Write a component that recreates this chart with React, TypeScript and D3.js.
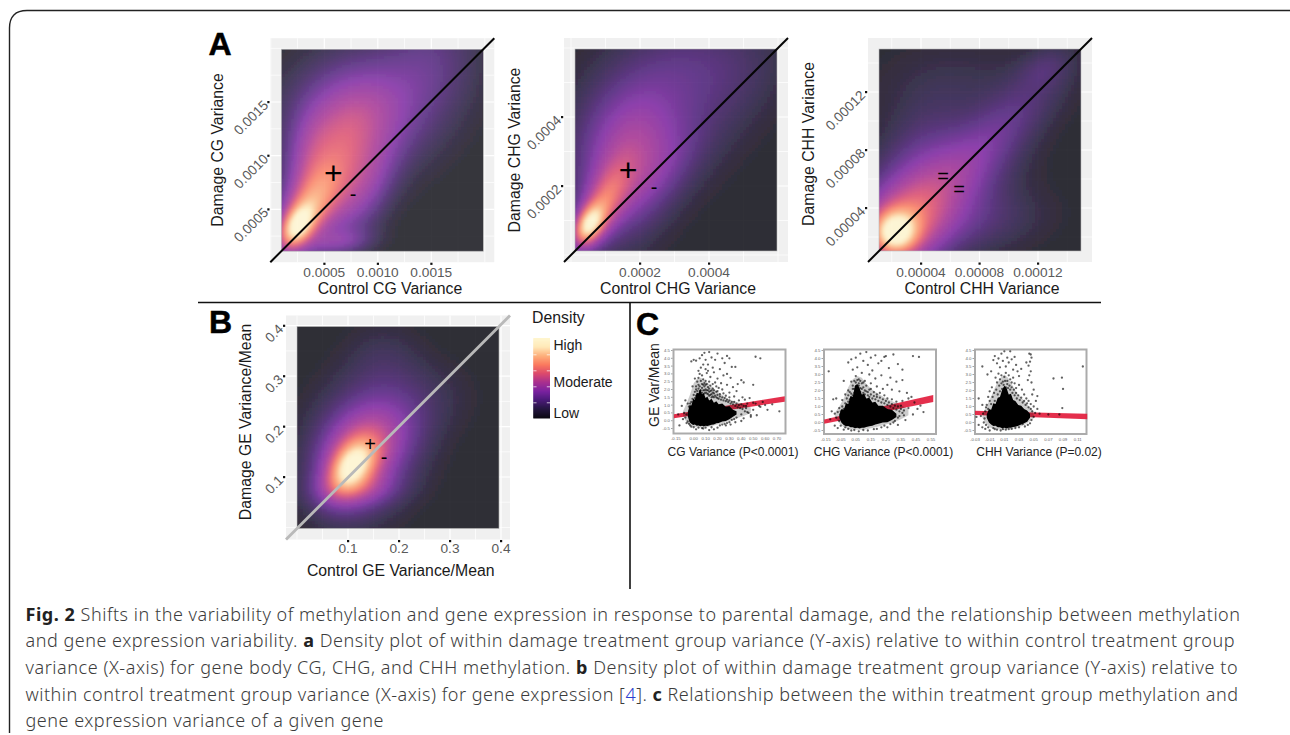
import React from "react";
import * as d3 from "d3";

type Blob = [number, number, number, number, number, number];

// ---- density components: cx, cy, sx, sy, rho, weight
const blobsCG: Blob[] = [
  [0.00024, 0.00033, 0.00011, 0.00014, 0.4, 0.62],
  [0.00035, 0.0005, 0.0002, 0.00026, 0.5, 0.45],
  [0.0006, 0.00085, 0.00026, 0.0004, 0.3, 0.38],
  [0.00085, 0.0014, 0.00042, 0.00035, 0.1, 0.33],
  [0.00035, 0.001, 0.00015, 0.0003, 0.3, 0.14],
  [0.00065, 0.0002, 0.0002, 0.00008, 0.2, 0.16],
  [0.0009, 0.0007, 0.0002, 0.0003, 0.5, 0.16],
  [0.0015, 0.0019, 0.0003, 0.00035, 0.1, 0.12],
];
const blobsCHG: Blob[] = [
  [0.00005, 0.000085, 0.00003, 0.00004, 0.4, 0.65],
  [0.00009, 0.00014, 0.00005, 0.00008, 0.55, 0.38],
  [0.00015, 0.00024, 0.00009, 0.00013, 0.2, 0.28],
  [0.0002, 0.00037, 0.00012, 0.00012, 0.1, 0.18],
  [0.00025, 0.00024, 0.00009, 0.00009, 0.6, 0.08],
  [0.00035, 0.00055, 0.00014, 0.0001, 0.1, 0.11],
  [0.00045, 0.00045, 0.00012, 0.00014, 0.5, 0.04],
];
const blobsCHH: Blob[] = [
  [0.000022, 0.000023, 0.00001, 0.00001, 0, 0.6],
  [0.000026, 0.000026, 0.00002, 0.00002, 0.1, 0.38],
  [0.00005, 0.00005, 0.00003, 0.000027, 0.45, 0.28],
  [0.00009, 0.00009, 0.00003, 0.00003, 0.8, 0.14],
  [0.00004, 0.00007, 0.00002, 0.00003, 0.2, 0.1],
  [0.00008, 0.00003, 0.00003, 0.000015, 0.2, 0.08],
  [0.000125, 0.000137, 0.000012, 0.00001, 0.3, 0.07],
  [0.00007, 0.000125, 0.00004, 0.00002, 0, 0.04],
];
const blobsGE: Blob[] = [
  [0.105, 0.118, 0.03, 0.034, 0.4, 0.48],
  [0.115, 0.13, 0.048, 0.058, 0.25, 0.42],
  [0.135, 0.165, 0.068, 0.08, 0.1, 0.23],
  [0.115, 0.075, 0.055, 0.022, 0.1, 0.14],
  [0.19, 0.2, 0.05, 0.05, 0.1, 0.09],
  [0.17, 0.33, 0.05, 0.05, 0, 0.05],
  [0.26, 0.26, 0.06, 0.05, 0, 0.04],
];

// ---- tick labels
const ticksCGx = [0.0005, 0.001, 0.0015];
const ticksCHGx = [0.0002, 0.0004];
const ticksCHHx = [0.00004, 0.00008, 0.00012];
const ticksGE = [0.1, 0.2, 0.3, 0.4];

// ---- scatter points (x variance, y var/mean)
const pointsCG: [number, number][] = [
  [-0.02,3.8],[0,3.9],[0.02,3.85],[0.04,3.2],[0.05,4.0],[0.07,4.2],[0.09,4.35],[0.1,3.9],[0.12,3.6],[0.13,4.4],[0.15,4.05],[0.16,3.4],[0.18,3.9],[0.2,4.3],[0.22,3.3],[0.24,4.0],[0.26,3.7],[0.28,4.15],[0.3,4.0],[0.32,3.45],[0.35,3.45],[0.28,3.0],[0.31,2.75],[0.25,2.9],[0.2,2.7],[0.17,3.1],[0.14,2.8],[0.11,3.05],[0.07,2.9],[0.03,2.5],[0.01,2.7],[-0.01,2.2],[0.04,2.75],[0.09,2.4],[0.13,2.5],[0.16,2.35],[0.19,2.2],[0.23,2.4],[0.28,2.3],[0.33,2.15],[0.37,2.35],[0.4,2.6],[0.42,2.45],[0.36,1.9],[0.3,1.8],[0.25,1.75],[0.43,1.35],[0.47,1.45],[0.5,1.15],[0.52,1.1],[0.55,0.95],[0.58,1.2],[0.6,1.0],[0.52,4.1],[0.56,4.0],[0.5,2.3],[0.56,0.88],[0.72,0.6],[0.62,0.7],[0.66,1.05],[0.48,0.35],
  [-0.12,-0.3],[-0.1,0.95],[-0.07,1.3],[-0.05,1.1],[-0.13,0.4],[-0.09,0.1],[-0.06,-0.15],[-0.04,0.6],[-0.03,-0.3],[-0.02,1.2],[0.02,-0.55],[0.08,-0.5],[0.13,-0.6],[0.2,-0.45],[0.27,-0.3],[0.35,-0.1],[0.42,0.15],[0.48,0.25],[0.53,0.35],[0.4,-0.02],[0.31,-0.25],[0.17,-0.55],
  [0.02,2.0],[0.04,2.3],[0.05,1.9],[0.06,2.55],[0.07,2.1],[0.08,2.65],[0.08,1.95],[0.09,2.2],[0.1,2.55],[0.1,2.0],[0.11,2.35],[0.12,2.15],[0.13,1.85],[0.14,2.25],[0.15,1.95],[0.16,2.05],[0.17,1.75],[0.18,2.45],[0.2,1.9],[0.21,2.1],[0.22,1.7],[0.24,2.0],[0.27,1.6],[0.3,1.5],[0.34,1.55],[0.38,1.3],[0.41,1.5],[0.45,1.1],[0.44,0.8],[0.5,0.7],[0.46,0.5],[0.4,0.4],[0.05,3.0],[0.06,3.4],[0.1,3.3],[0.08,3.6],[0.12,3.2],
  [-0.04,0.9],[-0.03,1.1],[-0.02,0.95],[-0.01,1.4],[0,1.65],[0,1.2],[0.01,1.85],[0.01,1.45],[0.02,1.6],[0.02,2.2],[0.03,1.9],[0.03,1.5],[0.04,2.05],[0.04,1.65],[0.05,1.75],[0.05,2.2],[0.06,1.95],[0.06,1.6],[0.07,2.35],[0.07,1.8],[0.08,2.3],[0.08,1.7],[0.09,1.95],[0.09,1.75],[0.1,1.8],[0.1,2.3],[0.11,1.75],[0.11,1.95],[0.12,1.7],[0.12,1.95],[0.13,1.6],[0.13,2.05],[0.14,1.65],[0.14,1.9],[0.15,1.7],[0.15,1.5],[0.16,1.8],[0.16,1.55],[0.17,1.5],[0.17,1.95],[0.18,1.6],[0.19,1.5],[0.19,1.85],[0.2,1.45],[0.2,1.65],[0.21,1.4],[0.22,1.55],[0.23,1.35],[0.24,1.5],[0.25,1.3],[0.26,1.45],[0.27,1.25],[0.28,1.35],[0.29,1.2],[0.3,1.3],[0.31,1.1],[0.32,1.2],[0.33,1.05],[0.34,1.2],[0.35,0.95],[0.36,1.1],[0.37,0.85],[0.38,1.0],[0.39,0.8],[0.4,1.05],[0.41,0.75],[0.42,0.95],[0.43,0.6],[0.44,0.95],[0.45,0.55],[0.36,0.2],[0.34,0.1],[0.32,0.05],[0.3,-0.1],[0.28,-0.15],[0.26,-0.2],[0.24,-0.25],[0.22,-0.3],[-0.06,0.4],[-0.07,0.2],[-0.08,0.5],[-0.05,-0.05],[-0.04,-0.2],[-0.02,-0.38],[0,-0.42],[0.04,-0.45],[0.07,-0.48],[0.1,-0.45],[0.15,-0.42],
];
const pointsCHG: [number, number][] = [
  [-0.13,3.2],[-0.03,2.6],[0.0,3.75],[0.02,3.95],[0.03,3.3],[0.05,4.05],[0.06,3.45],[0.08,4.3],[0.1,3.85],[0.12,4.4],[0.13,3.6],[0.15,4.05],[0.16,3.25],[0.18,4.2],[0.2,3.7],[0.22,3.85],[0.24,4.1],[0.27,3.4],[0.3,4.25],[0.33,3.65],[0.36,3.3],[0.43,4.15],[0.47,4.1],[0.25,4.15],[0.28,2.8],[0.32,2.55],[0.36,2.65],[0.26,2.35],[0.22,2.95],[0.18,2.75],[0.14,3.0],[0.09,3.1],[0.05,2.9],[0.02,2.55],[0.07,2.3],[0.11,2.6],[0.15,2.45],[0.19,2.25],[0.23,2.1],[0.29,2.05],[0.34,1.95],[0.39,1.85],[0.42,1.6],[0.44,1.25],[0.48,1.05],[0.46,0.85],[0.5,0.65],[0.43,0.5],[0.38,0.15],[0.33,-0.15],[0.4,1.5],[0.36,1.35],
  [-0.11,0.7],[-0.1,1.45],[-0.08,1.5],[-0.06,0.9],[-0.12,0.2],[-0.09,-0.2],[-0.07,-0.35],[-0.04,1.4],[-0.02,1.75],[0.0,2.0],[-0.03,-0.45],[0.02,-0.5],[0.07,-0.55],[0.13,-0.5],[0.19,-0.4],[0.26,-0.3],[0.3,0.0],
  [0.01,1.9],[0.03,2.1],[0.04,1.85],[0.05,2.5],[0.06,2.0],[0.07,2.7],[0.08,2.15],[0.09,2.45],[0.1,2.2],[0.11,2.0],[0.12,2.3],[0.13,1.9],[0.15,2.1],[0.17,1.9],[0.19,1.75],[0.21,1.85],[0.24,1.7],[0.26,1.5],[0.29,1.45],[0.32,1.3],[0.35,1.05],[0.37,0.75],[0.4,0.9],[0.34,0.4],
  [-0.05,0.7],[-0.04,1.0],[-0.03,0.85],[-0.02,1.2],[-0.01,1.5],[-0.01,1.1],[0,1.3],[0,1.7],[0.01,1.45],[0.02,1.8],[0.02,1.55],[0.03,2.3],[0.03,1.7],[0.04,2.6],[0.04,2.1],[0.05,2.25],[0.06,2.65],[0.06,2.3],[0.07,2.45],[0.08,2.6],[0.08,1.9],[0.09,2.1],[0.1,1.85],[0.1,2.5],[0.11,1.75],[0.12,1.95],[0.13,1.7],[0.14,2.05],[0.14,1.6],[0.15,1.75],[0.16,1.5],[0.17,1.65],[0.18,1.45],[0.19,1.6],[0.2,1.35],[0.21,1.55],[0.22,1.25],[0.23,1.45],[0.24,1.2],[0.25,1.35],[0.26,1.1],[0.27,1.25],[0.28,1.0],[0.29,1.15],[0.3,0.9],[0.31,1.05],[0.32,0.8],[0.33,1.0],[0.34,0.7],[0.35,0.85],[0.36,0.6],[0.37,0.45],[0.33,0.3],[0.31,0.1],[0.28,-0.1],[0.24,-0.2],[0.22,-0.3],[0.17,-0.42],[0.1,-0.47],[0.04,-0.47],[0,-0.4],[-0.02,-0.3],[-0.05,-0.2],[-0.06,0.1],[-0.08,0.3],[-0.09,0.55],[-0.07,0.65],
];
const pointsCHH: [number, number][] = [
  [-0.02,3.5],[-0.013,3.0],[-0.025,1.5],[-0.02,1.1],[-0.008,3.2],[-0.005,3.9],[-0.003,4.15],[0.0,3.7],[0.002,4.0],[0.004,3.45],[0.006,4.3],[0.008,3.85],[0.01,4.45],[0.012,3.5],[0.014,4.05],[0.016,3.75],[0.018,4.45],[0.02,3.95],[0.022,3.3],[0.024,4.1],[0.026,3.6],[0.028,3.2],[0.03,2.9],[0.033,3.35],[0.04,3.75],[0.044,4.3],[0.046,4.25],[0.047,4.05],[0.045,3.8],[0.043,3.55],[0.046,3.2],[0.044,2.95],[0.042,2.65],[0.047,2.5],[0.05,2.05],[0.048,1.75],[0.055,1.65],[0.053,1.35],[0.117,3.5],[0.077,2.75],[0.0885,2.8],[0.09,2.1],[0.089,0.9],[0.07,0.5],[0.085,0.5],
  [-0.002,2.8],[0.0,2.5],[0.002,3.05],[0.004,2.7],[0.006,2.95],[0.008,2.55],[0.01,2.85],[0.012,3.1],[0.014,2.6],[0.016,2.95],[0.018,2.7],[0.02,2.5],[0.022,2.8],[0.024,2.45],[0.026,2.15],[0.03,2.35],[0.034,2.05],[0.037,1.75],[0.04,1.5],[0.043,1.35],[0.046,1.15],[0.05,1.0],[0.055,0.85],[0.058,0.55],[0.05,0.35],[0.04,0.1],[0.03,-0.3],[0.02,-0.4],
  [-0.022,0.4],[-0.02,-0.3],[-0.018,0.0],[-0.016,-0.4],[-0.015,0.95],[-0.012,1.6],[-0.01,-0.5],[-0.01,1.95],[-0.007,2.2],[-0.005,-0.35],[0.0,-0.45],[-0.028,0.35],[-0.025,-0.15],[0.005,-0.5],[0.012,-0.45],[0.035,-0.1],[0.045,-0.05],
  [-0.016,0.7],[-0.014,1.1],[-0.012,0.85],[-0.01,1.35],[-0.008,1.15],[-0.006,1.6],[-0.004,1.85],[-0.003,1.35],[-0.001,2.05],[0.001,1.75],[0.003,2.3],[0.004,1.95],[0.006,2.45],[0.007,2.1],[0.009,2.35],[0.011,2.6],[0.012,2.2],[0.014,2.4],[0.015,2.15],[0.017,2.3],[0.018,2.05],[0.02,2.2],[0.021,1.85],[0.023,2.05],[0.024,1.7],[0.026,1.85],[0.027,1.5],[0.029,1.7],[0.031,1.4],[0.033,1.55],[0.035,1.25],[0.037,1.35],[0.039,1.1],[0.041,1.2],[0.043,0.95],[0.046,0.85],[0.048,0.7],[0.052,0.6],[0.047,0.15],[0.042,-0.15],[0.038,-0.25],[0.025,-0.35],[0.016,-0.42],[0.008,-0.42],[-0.003,-0.42],[-0.012,-0.3],[-0.015,-0.15],[-0.017,0.25],[-0.019,0.55],
];

// ---- solid core of each cloud: x, lower edge, upper edge
const coreCGx = [-0.05,-0.035,-0.02,-0.005,0.01,0.025,0.04,0.055,0.07,0.085,0.1,0.115,0.13,0.15,0.17,0.19,0.21,0.24,0.27,0.3,0.33,0.36];
const coreCGhi = [0.5,1.0,0.95,1.4,1.35,1.8,1.75,2.05,1.7,1.75,1.45,1.55,1.3,1.4,1.15,1.25,1.05,1.1,0.9,0.95,0.7,0.6];
const coreCGlo = [0.3,-0.1,-0.2,-0.28,-0.25,-0.32,-0.3,-0.36,-0.33,-0.37,-0.33,-0.34,-0.3,-0.26,-0.24,-0.16,-0.14,-0.05,-0.02,0.1,0.25,0.4];
const coreCHGx = [-0.06,-0.045,-0.03,-0.015,0,0.015,0.03,0.045,0.06,0.075,0.09,0.105,0.12,0.14,0.16,0.18,0.2,0.23,0.26,0.29,0.32];
const coreCHGhi = [0.5,0.85,0.8,1.2,1.15,1.65,1.6,2.3,2.4,2.15,1.75,1.8,1.5,1.55,1.25,1.3,1.05,1.05,0.85,0.8,0.55];
const coreCHGlo = [0.3,-0.02,-0.15,-0.24,-0.22,-0.3,-0.3,-0.36,-0.33,-0.37,-0.33,-0.33,-0.28,-0.24,-0.2,-0.12,-0.08,0.0,0.02,0.15,0.35];
const coreCHHx = [-0.014,-0.011,-0.008,-0.005,-0.002,0.001,0.004,0.007,0.01,0.013,0.016,0.019,0.022,0.025,0.029,0.033,0.037,0.041,0.045];
const coreCHHhi = [0.5,0.85,0.8,1.2,1.15,1.55,1.6,2.05,2.3,2.15,1.75,1.8,1.4,1.35,1.1,1.05,0.85,0.75,0.55];
const coreCHHlo = [0.3,0.0,-0.12,-0.22,-0.2,-0.3,-0.3,-0.36,-0.33,-0.37,-0.33,-0.33,-0.28,-0.26,-0.2,-0.12,-0.05,0.05,0.3];

// ---- speckled halo round each core: x, lower edge, upper edge
const haloCGx = [-0.09,-0.06,-0.03,0,0.03,0.06,0.09,0.12,0.16,0.2,0.25,0.3,0.36,0.42,0.48];
const haloCGlo = [0.3,-0.1,-0.3,-0.4,-0.42,-0.45,-0.45,-0.4,-0.32,-0.25,-0.15,-0.02,0.15,0.3,0.5];
const haloCGhi = [0.6,1.1,1.7,2.4,2.7,2.75,2.6,2.4,2.15,1.85,1.6,1.35,1.2,1.05,0.85];
const haloCHGx = [-0.09,-0.06,-0.03,0,0.03,0.06,0.09,0.12,0.16,0.2,0.25,0.3,0.35,0.4];
const haloCHGlo = [0.35,-0.05,-0.3,-0.4,-0.42,-0.45,-0.45,-0.42,-0.35,-0.25,-0.12,0,0.2,0.45];
const haloCHGhi = [0.6,1.0,1.5,2.2,2.7,2.9,2.8,2.4,2.05,1.8,1.5,1.3,1.1,0.85];
const haloCHHx = [-0.02,-0.015,-0.01,-0.005,0,0.005,0.01,0.015,0.02,0.027,0.035,0.042,0.05];
const haloCHHlo = [0.3,-0.1,-0.3,-0.4,-0.42,-0.45,-0.45,-0.42,-0.4,-0.33,-0.2,-0.02,0.25];
const haloCHHhi = [0.55,0.95,1.4,1.95,2.45,2.8,3.0,2.8,2.4,1.85,1.45,1.1,0.7];

// ---- fitted bands: left x, right x, left y, right y, left half-width, right half-width
const fitCG = [-0.166, 0.765, 0.29, 1.39, 0.13, 0.17];
const fitCHG = [-0.16, 0.565, 0.05, 1.5, 0.13, 0.22];
const fitCHH = [-0.03, 0.123, 0.6, 0.37, 0.13, 0.17];

const ticksCGc = ["-0.15", "0.00", "0.10", "0.20", "0.30", "0.40", "0.50", "0.60", "0.70"];
const ticksCHGc = ["-0.15", "-0.05", "0.05", "0.15", "0.25", "0.35", "0.45", "0.55"];
const ticksCHHc = ["-0.03", "-0.01", "0.01", "0.03", "0.05", "0.07", "0.09", "0.11"];
const ticksVar = [4.5, 4, 3.5, 3, 2.5, 2, 1.5, 1, 0.5, 0, -0.5];

const legendLabels = ["High", "Moderate", "Low"];

// colour ramps: same colours, the heat map reaches purple sooner than the even legend bar
const rampStops = ["#0c0912", "#241640", "#4a1a78", "#7a22a0", "#a8308f", "#dc4a6c", "#fb7a5e", "#fdb07c", "#ffe9b8", "#fff6d0"];
const heatDomain = [0, 0.06, 0.16, 0.27, 0.42, 0.55, 0.67, 0.8, 0.92, 1];
const ramp = d3.scaleLinear<string>().domain(heatDomain).range(rampStops).interpolate(d3.interpolateRgb).clamp(true);
const legendRamp = d3
  .scaleLinear<string>()
  .domain(rampStops.map((_, i) => i / (rampStops.length - 1)))
  .range(rampStops)
  .interpolate(d3.interpolateRgb)
  .clamp(true);

const sans = "'Liberation Sans', Arial, sans-serif";
const captionFont = "'Noto Sans', sans-serif";
const CELL = 3;

function density(blobs: Blob[], x: number, y: number) {
  let s = 0;
  for (const [cx, cy, sx, sy, r, w] of blobs) {
    const dx = (x - cx) / sx;
    const dy = (y - cy) / sy;
    s += w * Math.exp(-(dx * dx - 2 * r * dx * dy + dy * dy) / (2 * (1 - r * r)));
  }
  return s;
}

type DProps = {
  id: string;
  left: number; top: number;
  xt: [number, number, number, number];
  yt: [number, number, number, number];
  xTicks: number[]; yTicks: number[];
  xFmt: (v: number) => string;
  blobs: Blob[];
  xLabel: string; yLabel: string;
  xLabelX: number; yLabelX: number; yLabelY: number; xLabelY: number;
  lineColor: string; lineWidth: number;
  tickLabelY: number; rotX: number;
};

function DensityPanel(p: DProps) {
  const W = 202, H = 202, pad = 11;
  const x = d3.scaleLinear().domain([p.xt[0], p.xt[2]]).range([p.xt[1], p.xt[3]]);
  const y = d3.scaleLinear().domain([p.yt[0], p.yt[2]]).range([p.yt[1], p.yt[3]]);
  const gl = p.left - pad, gt = p.top - pad, gw = W + 2 * pad, gh = H + 2 * pad;
  const xStep = p.xTicks[1] - p.xTicks[0];
  const yStep = p.yTicks[1] - p.yTicks[0];
  const xMinor = d3.range(-6, 12).map((i) => p.xTicks[0] + (i * xStep) / 2).filter((v) => x(v) > gl && x(v) < gl + gw);
  const yMinor = d3.range(-6, 12).map((i) => p.yTicks[0] + (i * yStep) / 2).filter((v) => y(v) > gt && y(v) < gt + gh);
  const cols = d3.range(-2, Math.ceil(W / CELL) + 2);
  const rows = d3.range(-2, Math.ceil(H / CELL) + 2);
  return (
    <g>
      <defs>
        <clipPath id={`clip-${p.id}`}><rect x={p.left} y={p.top} width={W} height={H} /></clipPath>
        <filter id={`blur-${p.id}`} filterUnits="userSpaceOnUse" x={p.left - 12} y={p.top - 12} width={W + 24} height={H + 24}>
          <feGaussianBlur stdDeviation={1.6} />
        </filter>
      </defs>
      <rect x={gl} y={gt} width={gw} height={gh} fill="#f0f0f0" />
      {xMinor.map((v, i) => (
        <line key={"xg" + i} x1={x(v)} x2={x(v)} y1={gt} y2={gt + gh} stroke="#fff" strokeWidth={p.xTicks.some((t) => Math.abs(t - v) < xStep / 100) ? 1.2 : 0.7} />
      ))}
      {yMinor.map((v, i) => (
        <line key={"yg" + i} y1={y(v)} y2={y(v)} x1={gl} x2={gl + gw} stroke="#fff" strokeWidth={p.yTicks.some((t) => Math.abs(t - v) < yStep / 100) ? 1.2 : 0.7} />
      ))}
      <g clipPath={`url(#clip-${p.id})`} opacity={0.85}>
        <g filter={`url(#blur-${p.id})`}>
          {cols.map((c) =>
            rows.map((r) => {
              const px = p.left + c * CELL;
              const py = p.top + r * CELL;
              const v = density(p.blobs, x.invert(px + CELL / 2), y.invert(py + CELL / 2));
              return <rect key={c + "_" + r} x={px} y={py} width={CELL + 0.5} height={CELL + 0.5} fill={ramp(v)} />;
            })
          )}
        </g>
      </g>
      <rect x={p.left} y={p.top} width={W} height={H} fill="none" stroke="#bbb" strokeWidth={0.6} />
      <line x1={gl} y1={gt + gh} x2={gl + gw} y2={gt} stroke={p.lineColor} strokeWidth={p.lineWidth} />
      {p.xTicks.map((t) => (
        <g key={"xt" + t}>
          <rect x={x(t) - 1} y={gt + gh + 0.5} width={2.2} height={2.2} fill="#111" />
          <text x={x(t)} y={p.tickLabelY} textAnchor="middle" fontFamily={sans} fontSize={13.7} fill="#5a5a5a">{p.xFmt(t)}</text>
        </g>
      ))}
      {p.yTicks.map((t) => (
        <g key={"yt" + t}>
          <rect x={gl - 3} y={y(t) - 1} width={2.2} height={2.2} fill="#111" />
          <text transform={`translate(${p.rotX},${y(t) + 1}) rotate(-45)`} textAnchor="end" dominantBaseline="central" fontFamily={sans} fontSize={13.7} fill="#5a5a5a">{p.xFmt(t)}</text>
        </g>
      ))}
      <text x={p.xLabelX} y={p.xLabelY} textAnchor="middle" fontFamily={sans} fontSize={15.8} fill="#1a1a1a">{p.xLabel}</text>
      <text transform={`translate(${p.yLabelX},${p.yLabelY}) rotate(-90)`} textAnchor="middle" dominantBaseline="central" fontFamily={sans} fontSize={15.8} fill="#1a1a1a">{p.yLabel}</text>
    </g>
  );
}

type SProps = {
  left: number; right: number; top: number; bottom: number;
  xt: [number, number, number, number];
  yt: [number, number];
  xTicks: string[];
  points: [number, number][];
  cx: number[]; lo: number[]; hi: number[];
  hx: number[]; hlo: number[]; hhi: number[];
  fit: number[];
  label: string; labelX: number; labelY: number;
  fs: number;
};

function ScatterPanel(p: SProps) {
  const x = d3.scaleLinear().domain([p.xt[0], p.xt[2]]).range([p.xt[1], p.xt[3]]);
  const y = d3.scaleLinear().domain([4.5, -0.5]).range(p.yt);
  const shape = (lo: number[], hi: number[]) =>
    d3
      .area<number>()
      .x((d) => x(d))
      .y0((_, i) => y(lo[i]))
      .y1((_, i) => y(hi[i]));
  const [x0, x1, a, b, h0, h1] = p.fit;
  const band = d3
    .area<number>()
    .x((d) => x(d))
    .y0((d) => {
      const t = (d - x0) / (x1 - x0);
      return y(a + (b - a) * t - (h0 + (h1 - h0) * t));
    })
    .y1((d) => {
      const t = (d - x0) / (x1 - x0);
      return y(a + (b - a) * t + (h0 + (h1 - h0) * t));
    });
  return (
    <g>
      <rect x={p.left} y={p.top} width={p.right - p.left} height={p.bottom - p.top} fill="#fff" stroke="#ababab" strokeWidth={2} />
      <g filter="url(#soft)">
        <path d={band([x0, x1]) ?? ""} fill="#e2203e" opacity={0.92} />
        <path d={shape(p.hlo, p.hhi)(p.hx) ?? ""} fill="#000" opacity={0.2} />
        <path d={shape(p.lo, p.hi)(p.cx) ?? ""} fill="#050505" />
        {p.points.map((d, i) => (
          <circle key={i} cx={x(d[0])} cy={y(d[1])} r={1.15} fill="#000" opacity={0.62} />
        ))}
      </g>
      {ticksVar.map((t) => (
        <g key={t}>
          <line x1={p.left - 2.5} x2={p.left - 1} y1={y(t)} y2={y(t)} stroke="#666" strokeWidth={0.6} />
          <text x={p.left - 3.5} y={y(t)} dominantBaseline="central" textAnchor="end" fontFamily={sans} fontSize={4.3} fill="#666">{t.toFixed(1)}</text>
        </g>
      ))}
      {p.xTicks.map((t) => (
        <text key={t} x={x(+t)} y={p.bottom + 6.5} textAnchor="middle" fontFamily={sans} fontSize={4.3} fill="#666">{t}</text>
      ))}
      <text x={p.labelX} y={p.labelY} textAnchor="middle" fontFamily={sans} fontSize={p.fs} fill="#222">{p.label}</text>
    </g>
  );
}

export default function App() {
  const fmt4 = (v: number) => v.toFixed(4);
  const fmt5 = (v: number) => v.toFixed(5);
  const fmt1 = (v: number) => v.toFixed(1);
  const legendY = d3.scaleLinear().domain([0, 1]).range([418, 338]);
  const legendCells = d3.range(0, 80).map((i) => i / 80);
  return (
    <svg width={1290} height={735} style={{ position: "fixed", left: 0, top: 0, background: "#fff" }}>
      <defs>
        <filter id="soft" x="-5%" y="-5%" width="110%" height="110%"><feGaussianBlur stdDeviation={0.35} /></filter>
      </defs>
      <path d="M 1292 10.5 L 27 10.5 Q 9.5 10.5 9.5 28 L 9.5 733" fill="none" stroke="#222" strokeWidth={1.4} />

      <DensityPanel id="cg" left={281.3} top={49.2} xt={[0.0005, 324.3, 0.0015, 431.3]} yt={[0.0005, 209.3, 0.0015, 102]}
        xTicks={ticksCGx} yTicks={ticksCGx} xFmt={fmt4} blobs={blobsCG} xLabel="Control CG Variance" yLabel="Damage CG Variance"
        xLabelX={390} xLabelY={294} yLabelX={217} yLabelY={150} lineColor="#050505" lineWidth={2} tickLabelY={277} rotX={266} />
      <DensityPanel id="chg" left={575} top={49} xt={[0.0002, 640, 0.0004, 709]} yt={[0.0002, 186, 0.0004, 117]}
        xTicks={ticksCHGx} yTicks={ticksCHGx} xFmt={fmt4} blobs={blobsCHG} xLabel="Control CHG Variance" yLabel="Damage CHG Variance"
        xLabelX={678} xLabelY={294} yLabelX={514} yLabelY={150} lineColor="#050505" lineWidth={2} tickLabelY={277} rotX={559} />
      <DensityPanel id="chh" left={879} top={49} xt={[0.00004, 921, 0.00012, 1038]} yt={[0.00004, 208, 0.00012, 92]}
        xTicks={ticksCHHx} yTicks={ticksCHHx} xFmt={fmt5} blobs={blobsCHH} xLabel="Control CHH Variance" yLabel="Damage CHH Variance"
        xLabelX={982} xLabelY={294} yLabelX={808} yLabelY={144} lineColor="#050505" lineWidth={2} tickLabelY={277} rotX={863} />
      <DensityPanel id="ge" left={297} top={326.5} xt={[0.1, 348, 0.4, 501]} yt={[0.1, 477, 0.4, 325.7]}
        xTicks={ticksGE} yTicks={ticksGE} xFmt={fmt1} blobs={blobsGE} xLabel="Control GE Variance/Mean" yLabel="Damage GE Variance/Mean"
        xLabelX={400.7} xLabelY={576} yLabelX={245} yLabelY={422} lineColor="#b9b9b9" lineWidth={2.8} tickLabelY={553} rotX={281} />

      {/* plot signs */}
      <text x={333.3} y={184} textAnchor="middle" fontFamily={sans} fontSize={32} fill="#000">+</text>
      <text x={353} y={201} textAnchor="middle" fontFamily={sans} fontSize={20} fill="#000">-</text>
      <text x={628} y={181} textAnchor="middle" fontFamily={sans} fontSize={32} fill="#000">+</text>
      <text x={654} y={194} textAnchor="middle" fontFamily={sans} fontSize={20} fill="#000">-</text>
      <text x={943} y={183} textAnchor="middle" fontFamily={sans} fontSize={20} fill="#000">=</text>
      <text x={959} y={196} textAnchor="middle" fontFamily={sans} fontSize={20} fill="#000">=</text>
      <text x={370} y={451} textAnchor="middle" fontFamily={sans} fontSize={20} fill="#000">+</text>
      <text x={384} y={464} textAnchor="middle" fontFamily={sans} fontSize={20} fill="#000">-</text>

      {/* legend */}
      <text x={532} y={323} fontFamily={sans} fontSize={15.8} fill="#1a1a1a">Density</text>
      {legendCells.map((t) => (
        <rect key={t} x={533.3} y={legendY(t + 1 / 80)} width={16.7} height={1.5} fill={legendRamp(t)} />
      ))}
      {[0.19, 0.39, 0.59, 0.79].map((t) => (
        <g key={t}>
          <line x1={533.3} x2={536.5} y1={legendY(t)} y2={legendY(t)} stroke="#fff" strokeWidth={0.7} />
          <line x1={546.8} x2={550} y1={legendY(t)} y2={legendY(t)} stroke="#fff" strokeWidth={0.7} />
        </g>
      ))}
      {legendLabels.map((l, i) => (
        <text key={l} x={553.5} y={[350, 386.5, 418][i]} fontFamily={sans} fontSize={14} fill="#1a1a1a">{l}</text>
      ))}

      {/* dividers */}
      <line x1={198} x2={1101} y1={302.5} y2={302.5} stroke="#111" strokeWidth={1.6} />
      <line x1={630} x2={630} y1={302.5} y2={589} stroke="#111" strokeWidth={1.6} />

      {/* panel letters */}
      <g fontFamily={sans} fontWeight={700} fontSize={32} fill="#000" stroke="#000" strokeWidth={0.5}>
        <text x={208.5} y={55}>A</text>
        <text x={209} y={333}>B</text>
        <text x={636} y={335}>C</text>
      </g>

      {/* panel C */}
      <text transform="translate(654,385) rotate(-90)" textAnchor="middle" dominantBaseline="central" fontFamily={sans} fontSize={14} fill="#222">GE Var/Mean</text>
      <ScatterPanel left={673.5} right={785.5} top={349.5} bottom={433.5} xt={[0, 693.7, 0.7, 777]} yt={[350.5, 428.5]} xTicks={ticksCGc}
        points={pointsCG} cx={coreCGx} lo={coreCGlo} hi={coreCGhi} hx={haloCGx} hlo={haloCGlo} hhi={haloCGhi} fit={fitCG} label="CG Variance (P<0.0001)" labelX={733} labelY={456} fs={12} />
      <ScatterPanel left={824} right={936} top={349.5} bottom={434} xt={[-0.15, 825.7, 0.55, 931]} yt={[350.5, 430.5]} xTicks={ticksCHGc}
        points={pointsCHG} cx={coreCHGx} lo={coreCHGlo} hi={coreCHGhi} hx={haloCHGx} hlo={haloCHGlo} hhi={haloCHGhi} fit={fitCHG} label="CHG Variance (P<0.0001)" labelX={883.5} labelY={456} fs={12} />
      <ScatterPanel left={975} right={1086.5} top={349.5} bottom={434} xt={[-0.03, 975, 0.11, 1077.7]} yt={[350.5, 430.5]} xTicks={ticksCHHc}
        points={pointsCHH} cx={coreCHHx} lo={coreCHHlo} hi={coreCHHhi} hx={haloCHHx} hlo={haloCHHlo} hhi={haloCHHhi} fit={fitCHH} label="CHH Variance (P=0.02)" labelX={1039} labelY={456} fs={12} />

      {/* caption */}
      <g fontFamily={captionFont} fontSize={18} fontWeight={300} fill="#3c3c3c">
        <text x={25.5} y={620.5} textLength={1214.5} lengthAdjust="spacing">
          <tspan fontWeight={700} fill="#222">Fig. 2</tspan> Shifts in the variability of methylation and gene expression in response to parental damage, and the relationship between methylation
        </text>
        <text x={25.5} y={647.2} textLength={1209} lengthAdjust="spacing">
          and gene expression variability. <tspan fontWeight={700} fill="#222">a</tspan> Density plot of within damage treatment group variance (Y-axis) relative to within control treatment group
        </text>
        <text x={25.5} y={673.9} textLength={1212} lengthAdjust="spacing">
          variance (X-axis) for gene body CG, CHG, and CHH methylation. <tspan fontWeight={700} fill="#222">b</tspan> Density plot of within damage treatment group variance (Y-axis) relative to
        </text>
        <text x={25.5} y={700.6} textLength={1212.5} lengthAdjust="spacing">
          within control treatment group variance (X-axis) for gene expression [<tspan fill="#2a3fd0">4</tspan>]. <tspan fontWeight={700} fill="#222">c</tspan> Relationship between the within treatment group methylation and
        </text>
        <text x={25.5} y={727.3} textLength={358} lengthAdjust="spacing">gene expression variance of a given gene</text>
      </g>
    </svg>
  );
}
